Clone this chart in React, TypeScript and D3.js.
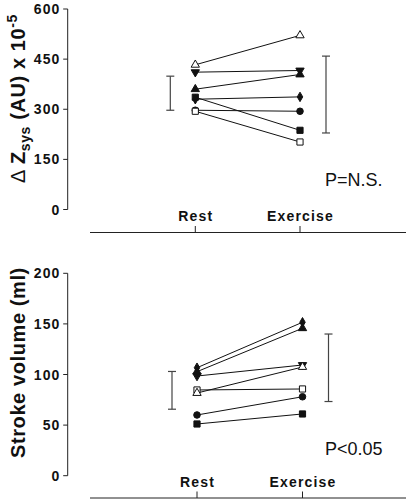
import React from "react";
import * as d3 from "d3";

// ---- data ----
const categories = ["Rest", "Exercise"];

const zsysTicks = [0, 150, 300, 450, 600];
const zsysMarkers = ["triangleOpen", "triangleDown", "triangle", "diamond", "square", "circle", "squareOpen"];
const zsysRest = [433, 411, 360, 330, 336, 297, 294];
const zsysExercise = [521, 416, 404, 337, 237, 294, 202];
const zsysBarLow = [297, 229];
const zsysBarHigh = [399, 459];
const zsysP = "P=N.S.";

const svTicks = [0, 50, 100, 150, 200];
const svMarkers = ["diamond", "triangle", "triangleDown", "squareOpen", "triangleOpen", "circle", "square"];
const svRest = [106.7, 102.8, 98.5, 84.7, 81.7, 60, 51.1];
const svExercise = [151.6, 145.7, 109.4, 85.7, 107.4, 78, 61];
const svBarLow = [65.7, 73.3];
const svBarHigh = [103, 140];
const svP = "P<0.05";

const FONT = "Arial, 'Liberation Sans', Helvetica, sans-serif";

function markerPath(kind: string): { d: string; open: boolean; rot: number } {
  const open = kind.endsWith("Open");
  let type: any = d3.symbolSquare;
  let size = 36;
  let rot = 0;
  if (kind.startsWith("triangle")) {
    type = d3.symbolTriangle;
    size = 30;
    if (kind === "triangleDown") rot = 180;
  } else if (kind === "circle") {
    type = d3.symbolCircle;
    size = 34;
  } else if (kind === "diamond") {
    type = d3.symbolDiamond;
    size = 26;
  } else if (kind.startsWith("square")) {
    type = d3.symbolSquare;
    size = 38;
  }
  return { d: d3.symbol().type(type).size(size)() as string, open, rot };
}

type PanelProps = {
  ticks: number[];
  yTop: number;
  yBottom: number;
  xRest: number;
  xEx: number;
  baseY: number;
  markers: string[];
  rest: number[];
  exercise: number[];
  barLow: number[];
  barHigh: number[];
  pText: string;
  pY: number;
  title: React.ReactNode;
  titleStartY: number;
};

function Panel(p: PanelProps) {
  const y = d3.scaleLinear().domain([0, d3.max(p.ticks) as number]).range([p.yBottom, p.yTop]);
  const x = d3.scalePoint<string>().domain(categories).range([p.xRest, p.xEx]);
  const axisX = 67.7;
  const barOffsets = [-25, 26];
  return (
    <g>
      {/* y axis */}
      <line x1={axisX} x2={axisX} y1={y(0)} y2={y(d3.max(p.ticks) as number)} stroke="#222" strokeWidth={1} />
      {p.ticks.map((t) => (
        <g key={t}>
          <line x1={axisX - 4.5} x2={axisX} y1={y(t)} y2={y(t)} stroke="#222" strokeWidth={1} />
          <text
            x={60.5}
            y={y(t)}
            dy="0.36em"
            textAnchor="end"
            fontFamily={FONT}
            fontWeight="bold"
            fontSize={14}
            letterSpacing={1.1}
            fill="#111"
          >
            {t}
          </text>
        </g>
      ))}
      {/* y title */}
      <text
        transform={`translate(25,${p.titleStartY}) rotate(-90)`}
        fontFamily={FONT}
        fontWeight="bold"
        fontSize={20}
        letterSpacing={0.6}
        fill="#111"
      >
        {p.title}
      </text>
      {/* bottom baseline */}
      <line x1={90} x2={406} y1={p.baseY} y2={p.baseY} stroke="#222" strokeWidth={1} />
      {categories.map((c) => (
        <g key={c}>
          <line x1={x(c)} x2={x(c)} y1={p.baseY - 6.5} y2={p.baseY} stroke="#222" strokeWidth={1} />
          <text
            x={(x(c) as number) + 0.5}
            y={p.baseY - 11.5}
            textAnchor="middle"
            fontFamily={FONT}
            fontWeight="bold"
            fontSize={14}
            letterSpacing={1.2}
            fill="#111"
          >
            {c}
          </text>
        </g>
      ))}
      {/* error bars */}
      {categories.map((c, i) => {
        const bx = (x(c) as number) + barOffsets[i];
        return (
          <g key={"bar" + c} stroke="#444" strokeWidth={1.2}>
            <line x1={bx} x2={bx} y1={y(p.barLow[i])} y2={y(p.barHigh[i])} />
            <line x1={bx - 4} x2={bx + 4} y1={y(p.barLow[i])} y2={y(p.barLow[i])} />
            <line x1={bx - 4} x2={bx + 4} y1={y(p.barHigh[i])} y2={y(p.barHigh[i])} />
          </g>
        );
      })}
      {/* subject lines */}
      {p.rest.map((r, i) => (
        <line
          key={"l" + i}
          x1={x("Rest")}
          x2={x("Exercise")}
          y1={y(r)}
          y2={y(p.exercise[i])}
          stroke="#111"
          strokeWidth={1}
        />
      ))}
      {/* markers */}
      {p.rest.map((r, i) => {
        const m = markerPath(p.markers[i]);
        return [r, p.exercise[i]].map((v, j) => (
          <path
            key={"m" + i + "-" + j}
            d={m.d}
            transform={`translate(${x(categories[j])},${y(v)}) rotate(${m.rot})`}
            fill={m.open ? "#fff" : "#111"}
            stroke="#111"
            strokeWidth={1}
          />
        ));
      })}
      <text x={325} y={p.pY} fontFamily={FONT} fontSize={18} fill="#111">
        {p.pText}
      </text>
    </g>
  );
}

export default function App() {
  return (
    <svg
      width={406}
      height={502}
      style={{ position: "absolute", left: 0, top: 0, background: "#fff" }}
    >
      <rect width={406} height={502} fill="#fff" />
      <Panel
        ticks={zsysTicks}
        yTop={9}
        yBottom={209.5}
        xRest={195.3}
        xEx={300}
        baseY={232.5}
        markers={zsysMarkers}
        rest={zsysRest}
        exercise={zsysExercise}
        barLow={zsysBarLow}
        barHigh={zsysBarHigh}
        pText={zsysP}
        pY={186}
        titleStartY={183}
        title={
          <>
            <tspan fontWeight="normal">Δ </tspan>
            <tspan>Z</tspan>
            <tspan fontSize={14} dy={5}>sys</tspan>
            <tspan dy={-5}> (AU) x 10</tspan>
            <tspan fontSize={14} dy={-8}>-5</tspan>
          </>
        }
      />
      <Panel
        ticks={svTicks}
        yTop={273.3}
        yBottom={475.7}
        xRest={197}
        xEx={302.5}
        baseY={498}
        markers={svMarkers}
        rest={svRest}
        exercise={svExercise}
        barLow={svBarLow}
        barHigh={svBarHigh}
        pText={svP}
        pY={455}
        titleStartY={458}
        title={<tspan>Stroke volume (ml)</tspan>}
      />
    </svg>
  );
}
